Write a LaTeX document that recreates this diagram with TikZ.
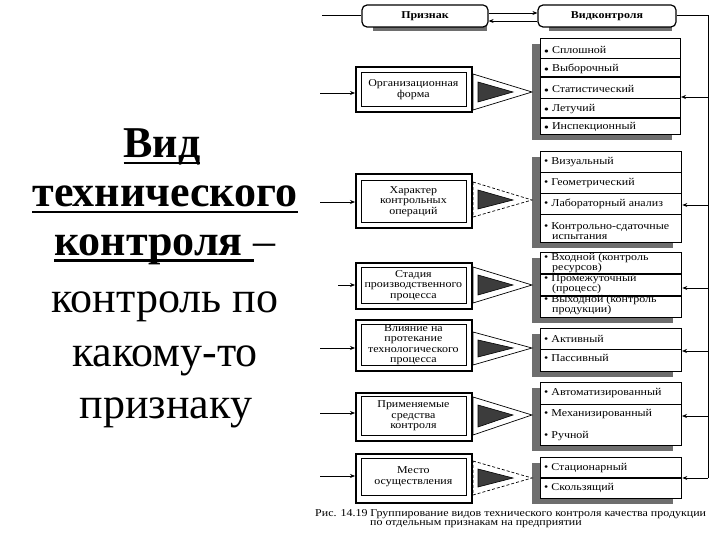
\documentclass[tikz,border=0pt]{standalone}
\usepackage{fontspec}
\setmainfont{Liberation Serif}
\newfontfamily\smallfam[FakeStretch=1.14]{Liberation Serif}
\usetikzlibrary{arrows.meta,calc}
\definecolor{shd}{HTML}{6E6E6E}
\definecolor{tri}{HTML}{3C3C3C}
\newcommand\ulx[1]{\setbox0\hbox{#1}\rlap{\rule[-6.5pt]{\wd0}{2.6pt}}\box0}
\newcommand\smf{\smallfam\fontsize{10.5}{10.5}\selectfont}
\tikzset{
  bigb/.style={font=\fontsize{44}{44}\selectfont, inner sep=0pt, anchor=base},
  bign/.style={font=\fontsize{44}{44}\selectfont, inner sep=0pt, anchor=base},
  topbox/.style={draw, rounded corners=5pt, line width=1.2pt, fill=white, inner sep=0pt, font=\smf\bfseries},
  outerbox/.style={draw, line width=1.7pt, fill=white, inner sep=0pt, anchor=north west},
  innerbox/.style={draw, line width=0.8pt, inner sep=0pt, anchor=north west, align=center, font=\smf},
  rbox/.style={draw, line width=1pt, fill=white, inner sep=0pt, anchor=north west},
  item/.style={anchor=west, inner sep=0pt, font=\smf, align=left},
  arr/.style={line width=0.7pt, -{Stealth[length=5pt,width=4pt]}},
  ln/.style={line width=0.7pt},
  trio/.style={line width=0.7pt, fill=white},
  trii/.style={line width=0.6pt, fill=tri},
}
\begin{document}
\begin{tikzpicture}[x=1pt,y=-1pt]
\useasboundingbox (0,0) rectangle (720,540);
% left text
\node[bigb] (h1) at (162,158) {\ulx{\textbf{Вид}}};
\node[bigb] (h2) at (165,207) {\ulx{\textbf{технического}}};
\node[bigb] (h3) at (165,255) {\ulx{\textbf{контроля}\ }–};
\node[bign] (h4) at (165,312) {контроль по};
\node[bign] (h5) at (165,366) {какому-то};
\node[bign] (h6) at (166,418) {признаку};

% top boxes
\fill[shd] (373,20) rectangle (487,31);
\fill[shd] (549,20) rectangle (672,31);
\node[topbox, minimum width=126pt, minimum height=22pt] (pr) at (425,16) {Признак};
\node[topbox, minimum width=138pt, minimum height=22pt] (vk) at (607,16) {Видконтроля};
\draw[arr] ([yshift=3pt]pr.east) -- ([yshift=3pt]vk.west);
\draw[arr] ([yshift=-5pt]vk.west) -- ([yshift=-5pt]pr.east);
\coordinate (ps) at (322,15);
\draw[ln] (ps) -- (ps -| pr.west);

% right boxes shadows
\fill[shd] (532,44) rectangle (672,140);
\fill[shd] (532,157) rectangle (673,248);
\fill[shd] (532,258) rectangle (673,323);
\fill[shd] (532,334) rectangle (673,377);
\fill[shd] (532,388) rectangle (673,451);
\fill[shd] (532,463) rectangle (673,504);

% right boxes
\node[rbox, minimum width=140pt, minimum height=96pt] (r1) at (540,38) {};
\node[rbox, minimum width=141pt, minimum height=91pt, line width=1.3pt] (r2) at (540,151) {};
\node[rbox, minimum width=141pt, minimum height=65pt, line width=1.3pt] (r3) at (540,252) {};
\node[rbox, minimum width=141pt, minimum height=43pt] (r4) at (540,328) {};
\node[rbox, minimum width=141pt, minimum height=63pt] (r5) at (540,382) {};
\node[rbox, minimum width=141pt, minimum height=41pt, line width=1.3pt] (r6) at (540,457) {};

% dividers
\draw[line width=0.8pt] (r1.west |- 0,58) -- (r1.east |- 0,58);
\draw[line width=1.5pt] (r1.west |- 0,77) -- (r1.east |- 0,77);
\draw[line width=0.8pt] (r1.west |- 0,98) -- (r1.east |- 0,98);
\draw[line width=1.5pt] (r1.west |- 0,118) -- (r1.east |- 0,118);
\draw[line width=0.8pt] (r2.west |- 0,172) -- (r2.east |- 0,172);
\draw[line width=0.8pt] (r2.west |- 0,193) -- (r2.east |- 0,193);
\draw[line width=0.8pt] (r2.west |- 0,214) -- (r2.east |- 0,214);
\draw[line width=1.5pt] (r3.west |- 0,274) -- (r3.east |- 0,274);
\draw[line width=1.5pt] (r3.west |- 0,296) -- (r3.east |- 0,296);
\draw[line width=0.8pt] (r4.west |- 0,349) -- (r4.east |- 0,349);
\draw[line width=0.8pt] (r5.west |- 0,404) -- (r5.east |- 0,404);
\draw[line width=1.5pt] (r6.west |- 0,478) -- (r6.east |- 0,478);

% items
\node[item] (i11) at (544,50) {{\fontsize{7}{7}\selectfont●} Сплошной};
\node[item] (i12) at (544,69) {{\fontsize{7}{7}\selectfont●} Выборочный};
\node[item] (i13) at (544,89) {{\fontsize{7}{7}\selectfont●} Статистический};
\node[item] (i14) at (544,109) {{\fontsize{7}{7}\selectfont●} Летучий};
\node[item] (i15) at (544,127) {{\fontsize{7}{7}\selectfont●} Инспекционный};
\node[item] (i21) at (544,162) {• Визуальный};
\node[item] (i22) at (544,183) {• Геометрический};
\node[item] (i23) at (544,204) {• Лабораторный анализ};
\node[item] (i24) at (544,231) {• Контрольно-сдаточные\\\hspace*{8pt}испытания};
\node[item] (i31) at (544,263) {• Входной (контроль\\\hspace*{8pt}ресурсов)};
\node[item] (i32) at (544,284) {• Промежуточный\\\hspace*{8pt}(процесс)};
\node[item] (i33) at (544,305) {• Выходной (контроль\\\hspace*{8pt}продукции)};
\node[item] (i41) at (544,339) {• Активный};
\node[item] (i42) at (544,358) {• Пассивный};
\node[item] (i51) at (544,393) {• Автоматизированный};
\node[item] (i52) at (544,414) {• Механизированный};
\node[item] (i53) at (544,436) {• Ручной};
\node[item] (i61) at (544,468) {• Стационарный};
\node[item] (i62) at (544,488) {• Скользящий};

% left boxes
\node[outerbox, minimum width=116pt, minimum height=45pt] (o1) at (355,66) {};
\node[innerbox, minimum width=105pt, minimum height=34pt] (n1) at (360.5,72) {Организационная\\форма};
\node[outerbox, minimum width=116pt, minimum height=54pt] (o2) at (355,173) {};
\node[innerbox, minimum width=105pt, minimum height=42pt] (n2) at (360.5,180) {Характер\\контрольных\\операций};
\node[outerbox, minimum width=116pt, minimum height=46pt] (o3) at (355,262) {};
\node[innerbox, minimum width=105pt, minimum height=36pt] (n3) at (360.5,267) {Стадия\\производственного\\процесса};
\node[outerbox, minimum width=116pt, minimum height=51pt] (o4) at (355,319) {};
\node[innerbox, minimum width=105pt, minimum height=41pt] (n4) at (360.5,324) {Влияние на\\протекание\\технологического\\процесса};
\node[outerbox, minimum width=116pt, minimum height=48pt] (o5) at (355,392) {};
\node[innerbox, minimum width=105pt, minimum height=39pt] (n5) at (360.5,396) {Применяемые\\средства\\контроля};
\node[outerbox, minimum width=116pt, minimum height=49pt] (o6) at (355,453) {};
\node[innerbox, minimum width=105pt, minimum height=37pt] (n6) at (360.5,458) {Место\\осуществления};

% triangles
\foreach \t/\a/\b/\d in {74/92/110/solid, 182/200/217/densely dashed, 267/285/303/solid, 332/348/365/solid, 397/415/435/solid, 461/478/495/densely dashed}{
  \draw[trio, \d] (473,\t) -- (532,\a) -- (473,\b) -- cycle;
  \draw[trii] (478,\t+8) -- (513,\a) -- (478,\b-8) -- cycle;
}

% left arrows
\coordinate (la1) at (320,93);
\coordinate (la2) at (320,202);
\coordinate (la3) at (338,285);
\coordinate (la4) at (320,348);
\coordinate (la5) at (320,413);
\coordinate (la6) at (320,476);
\foreach \i in {1,...,6}{\draw[arr] (la\i) -- (la\i -| o\i.west);}

% right feedback line
\coordinate (vt) at (708,15);
\coordinate (vb) at (708,478);
\draw[ln] (vk.east |- vt) -- (vt) -- (vb);
\coordinate (ra1) at (708,97);
\coordinate (ra2) at (708,205);
\coordinate (ra3) at (708,288);
\coordinate (ra4) at (708,351);
\coordinate (ra5) at (708,416);
\coordinate (ra6) at (708,478);
\foreach \i in {1,...,6}{\draw[arr] (ra\i) -- (ra\i -| r\i.east);}

% caption
\node[anchor=west, inner sep=0pt, font=\smf] (c1) at (315,514) {Рис. 14.19 Группирование видов технического контроля качества продукции};
\node[anchor=west, inner sep=0pt, font=\smf] (c2) at (370,524) {по отдельным признакам на предприятии};
\end{tikzpicture}
\end{document}
